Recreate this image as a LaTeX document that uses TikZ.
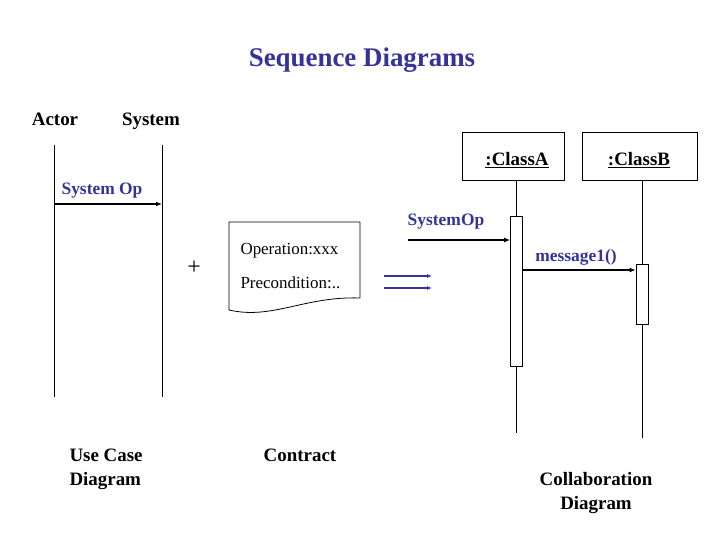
\documentclass[tikz,border=0pt]{standalone}
\usepackage{fontspec}
\setmainfont{Liberation Serif}
\usetikzlibrary{arrows.meta}
\definecolor{slideblue}{RGB}{51,51,153}
\tikzset{
  bigtext/.style={font=\bfseries\fontsize{19}{24}\selectfont, anchor=base},
  msglabel/.style={font=\bfseries\fontsize{17.5}{20}\selectfont, text=slideblue, anchor=base},
  doctext/.style={font=\fontsize{17}{20}\selectfont, anchor=base west},
  life/.style={draw=black, line width=0.8bp},
  msg/.style={line width=1.8bp, -{Latex[length=6bp,width=5bp]}},
  bluemsg/.style={draw=slideblue, line width=1.5bp, -{Latex[length=5bp,width=4bp]}},
  activation/.style={draw, fill=white, line width=0.8bp, minimum width=12bp, inner sep=0pt},
  classbox/.style={draw, line width=0.8bp, inner sep=0pt, minimum height=48.5bp}
}
\begin{document}
\begin{tikzpicture}[x=1bp, y=-1bp]
    \useasboundingbox (0,0) rectangle (720,540);
    \node[font=\bfseries\fontsize{27}{30}\selectfont, text=slideblue, anchor=base] (title) at (362,67) {Sequence Diagrams};
    % use case side
    \node[bigtext] (actor) at (55,125.5) {Actor};
    \node[bigtext] (system) at (151,125.5) {System};
    \coordinate (actor top) at (54,145);
    \coordinate (actor bot) at (54,397);
    \coordinate (system top) at (162,145);
    \coordinate (system bot) at (162,397);
    \draw[life] (actor top) -- (actor bot);
    \draw[life] (system top) -- (system bot);
    \node[msglabel] (sysop label) at (102,195) {System Op};
    \coordinate (sysop from) at (54,204);
    \draw[msg] (sysop from) -- (sysop from -| system top);
    \node[font=\fontsize{24}{24}\selectfont] (plus) at (194,268) {+};
    % contract
    \draw[line width=0.8bp, line join=round] (229,310) -- (229,222) -- (360,222) -- (360,298)
        .. controls (305,296) and (272,320) .. (229,310) -- cycle;
    \node[doctext] (operation) at (237,255) {Operation:xxx};
    \node[doctext] (precond) at (237,288) {Precondition:..};
    \coordinate (dbl a) at (384,276);
    \coordinate (dbl b) at (384,288);
    \draw[bluemsg] (dbl a) -- ++(48,0) coordinate (dbl a end);
    \draw[bluemsg] (dbl b) -- ++(48,0) coordinate (dbl b end);
    % sequence side
    \node[classbox, minimum width=102bp] (classA) at (513,156.5) {};
    \node[classbox, minimum width=115bp] (classB) at (639.5,156.5) {};
    \node[bigtext] (classA text) at (517,166) {\underline{:ClassA}};
    \node[bigtext] (classB text) at (639,166) {\underline{:ClassB}};
    \coordinate (lifeA top) at (516,180.75);
    \coordinate (lifeA bot) at (516,433);
    \coordinate (lifeB top) at (642,180.75);
    \coordinate (lifeB bot) at (642,438);
    \draw[life] (lifeA top) -- (lifeA bot);
    \draw[life] (lifeB top) -- (lifeB bot);
    \node[activation, minimum height=150bp] (actA) at (516.5,291) {};
    \node[activation, minimum height=60bp] (actB) at (642,294) {};
    \node[msglabel] (systemop label) at (446,226) {SystemOp};
    \coordinate (systemop from) at (408,240);
    \draw[msg] (systemop from) -- (systemop from -| actA.west);
    \node[msglabel] (message label) at (576,262) {message1()};
    \coordinate (message y) at (0,270);
    \draw[msg] (message y -| actA.east) -- (message y -| actB.west);
    % captions
    \node[bigtext, anchor=base west] (usecase) at (66,461.5) {Use Case};
    \node[bigtext, anchor=base west] (usecase2) at (66,485.5) {Diagram};
    \node[bigtext] (contract) at (300,461.5) {Contract};
    \node[bigtext] (collab) at (596,485.5) {Collaboration};
    \node[bigtext] (collab2) at (596,509.5) {Diagram};
\end{tikzpicture}
\end{document}
